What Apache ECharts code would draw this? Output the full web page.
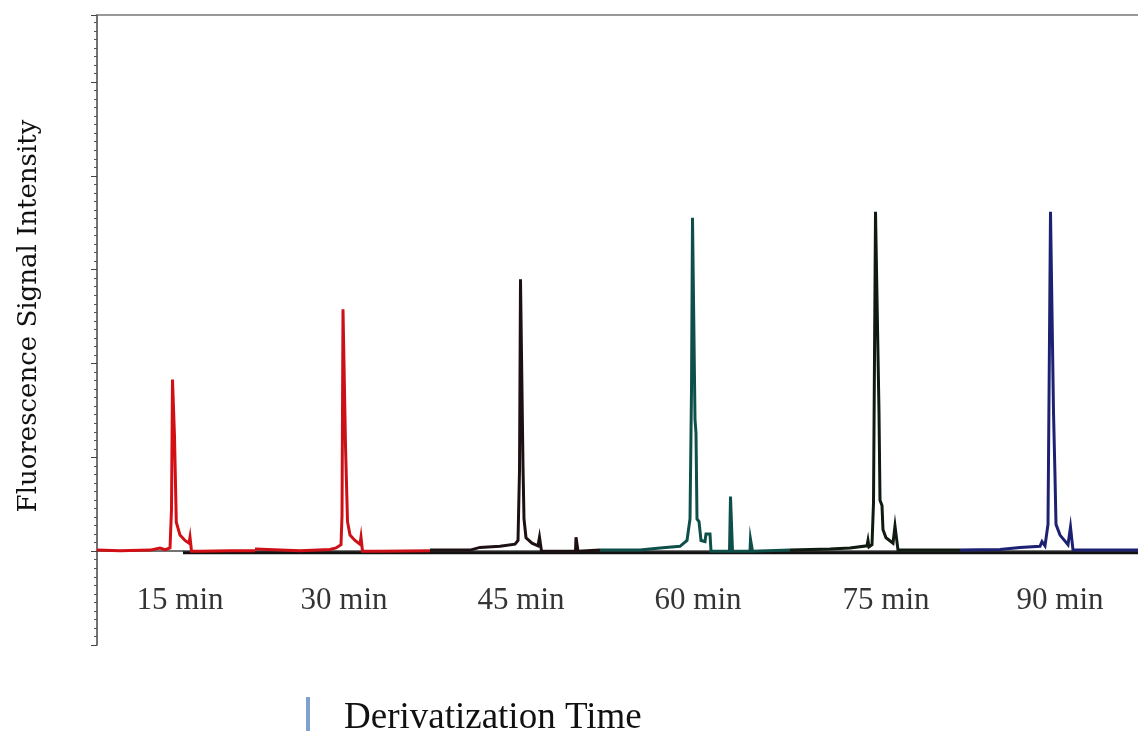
<!DOCTYPE html>
<html lang="en">
<head>
<meta charset="UTF-8">
<title>Derivatization Time chromatograms</title>
<script src="https://cdn.jsdelivr.net/npm/echarts@6/dist/echarts.min.js"></script>
<style>
  html,body{margin:0;height:100%;background:#fff;}
  #chart{width:1138px;height:731px;}
</style>
</head>
<body>
<div id="chart"></div>
<script>
// x: run position (arbitrary), y: fluorescence intensity (arbitrary, baseline 0)
const run15 = [[0,0.2],[2.3,0.1],[5.3,0.2],[6.3,0.6],[6.8,0.3],[7.3,0.6],[7.45,7.8],[7.55,32.0],[7.65,32.0],
  [7.75,21.4],[7.85,21.4],[7.93,5.4],[8.3,3.0],[8.8,2.0],[9.2,1.5],[9.3,2.6],[9.4,2.6],[9.45,0],[10.3,0],[13.3,0.1],[15.8,0.1]];
const run30 = [[15.8,0.4],[20.3,0.1],[23.3,0.3],[23.9,0.6],[24.4,1.2],[24.5,6.5],[24.6,45.1],[24.7,45.1],
  [24.85,19.7],[25.0,19.7],[25.05,5.5],[25.3,3.0],[25.8,2.0],[26.3,1.3],[26.4,2.6],[26.5,2.6],[26.55,0],[28.3,0],[33.3,0.1]];
const run45 = [[33.3,0.2],[37.3,0.2],[38.3,0.7],[40.3,0.9],[41.8,1.3],[42.1,2.0],[42.25,15],[42.35,50.7],[42.5,50.7],
  [42.6,15.8],[42.7,6.0],[42.9,2.5],[43.5,1.5],[44.1,1.0],[44.25,2.6],[44.4,2.6],[44.45,0],[46.3,0],
  [47.85,0],[47.9,2.6],[48.05,2.6],[48.1,0],[50.3,0.2]];
const run60 = [[50.3,0.2],[54.3,0.2],[56.3,0.6],[58.3,0.9],[59.0,2.0],[59.3,6],[59.45,30],[59.55,62.2],[59.7,62.2],
  [59.8,24.6],[59.9,22],[60.0,6.0],[60.2,5.5],[60.4,2.0],[60.8,1.8],[60.9,3.2],[61.3,3.2],[61.4,0],
  [63.25,0],[63.35,10.2],[63.5,10.2],[63.55,0],[65.3,0],[65.35,2.2],[65.5,2.2],[65.55,0],[69.3,0.2]];
const run75 = [[69.3,0.2],[73.3,0.4],[75.3,0.6],[77.0,1.0],[77.1,2.0],[77.2,0.8],[77.5,1.2],[77.65,9],[77.85,63.3],[78.05,63.3],
  [78.2,25.9],[78.3,9.5],[78.5,8.5],[78.6,4.0],[78.9,2.5],[79.6,1.5],[79.8,4.7],[80.0,4.7],[80.1,0.2],[82.3,0.2],[86.3,0.2]];
const run90 = [[86.3,0.2],[90.3,0.3],[92.3,0.7],[94.3,0.9],[94.5,1.8],[94.8,1.0],[95.1,5],[95.35,63.3],[95.55,63.3],
  [95.65,26],[95.8,14],[95.9,5.0],[96.3,3.0],[97.1,1.2],[97.35,4.5],[97.55,4.5],[97.6,0.2],[100.3,0.2],[104.1,0.2]];
const baseline = [[8.6,-0.3],[104.1,-0.3]];

const runNames  = ['15 min','30 min','45 min','60 min','75 min','90 min'];
const runColors = ['#d20f14','#cc1018','#1c1012','#0f4f4a','#0f1a10','#1c2172'];
const labelX    = [8.3, 24.7, 42.4, 60.1, 78.9, 96.3];
const labelY    = [-9.2, -9.2, -9.2, -9.2, -9.2, -9.2];

const runs = [run15, run30, run45, run60, run75, run90];
const serif = '"Liberation Serif","Times New Roman",serif';

const chart = echarts.init(document.getElementById('chart'));

const series = [{
  type:'line', data:baseline, showSymbol:false, silent:true,
  lineStyle:{color:'#111', width:3}, z:1
}].concat(runs.map((d,i)=>({
  name:runNames[i], type:'line', data:d, showSymbol:false,
  lineStyle:{color:runColors[i], width:3, join:'miter'}, z:2
}))).concat([{
  type:'scatter', symbolSize:0, silent:true,
  data:labelX.map((x,i)=>({name:runNames[i], value:[x,labelY[i]]})),
  label:{show:true, position:'inside', formatter:'{b}', color:'#000', fontFamily:serif, fontSize:31}
}]);

chart.setOption({
  animation:false,
  title:{
    text:'Derivatization Time', left:339, top:695,
    textStyle:{fontFamily:serif, fontWeight:'normal', fontSize:37, color:'#111'}
  },
  graphic:[{type:'rect', left:306, top:697, shape:{width:4, height:34}, style:{fill:'#7ea2cc'}}],
  grid:{left:97, right:0, top:15, bottom:86, outerBoundsMode:'none'},
  xAxis:[{
    type:'value', min:0, max:104.1,
    axisLine:{show:true, lineStyle:{color:'#444', width:1.5}},
    axisTick:{show:false}, axisLabel:{show:false}, splitLine:{show:false}
  },{
    type:'value', position:'top', min:0, max:104.1,
    axisLine:{show:true, onZero:false, lineStyle:{color:'#777', width:1.5}},
    axisTick:{show:false}, axisLabel:{show:false}, splitLine:{show:false}
  }],
  yAxis:{
    type:'value', min:-17.5, max:100, interval:17.5,
    name:'Fluorescence Signal Intensity', nameLocation:'middle', nameRotate:90, nameGap:55,
    nameTextStyle:{fontFamily:'"DejaVu Serif",serif', fontSize:26, color:'#111', padding:[0,0,0,28]},
    axisLine:{show:true, onZero:false, lineStyle:{color:'#444', width:1.5}},
    axisTick:{show:true, inside:false, length:6, lineStyle:{color:'#444'}},
    minorTick:{show:true, splitNumber:11, length:3, lineStyle:{color:'#555'}},
    axisLabel:{show:false}, splitLine:{show:false}
  },
  series
});
</script>
</body>
</html>
